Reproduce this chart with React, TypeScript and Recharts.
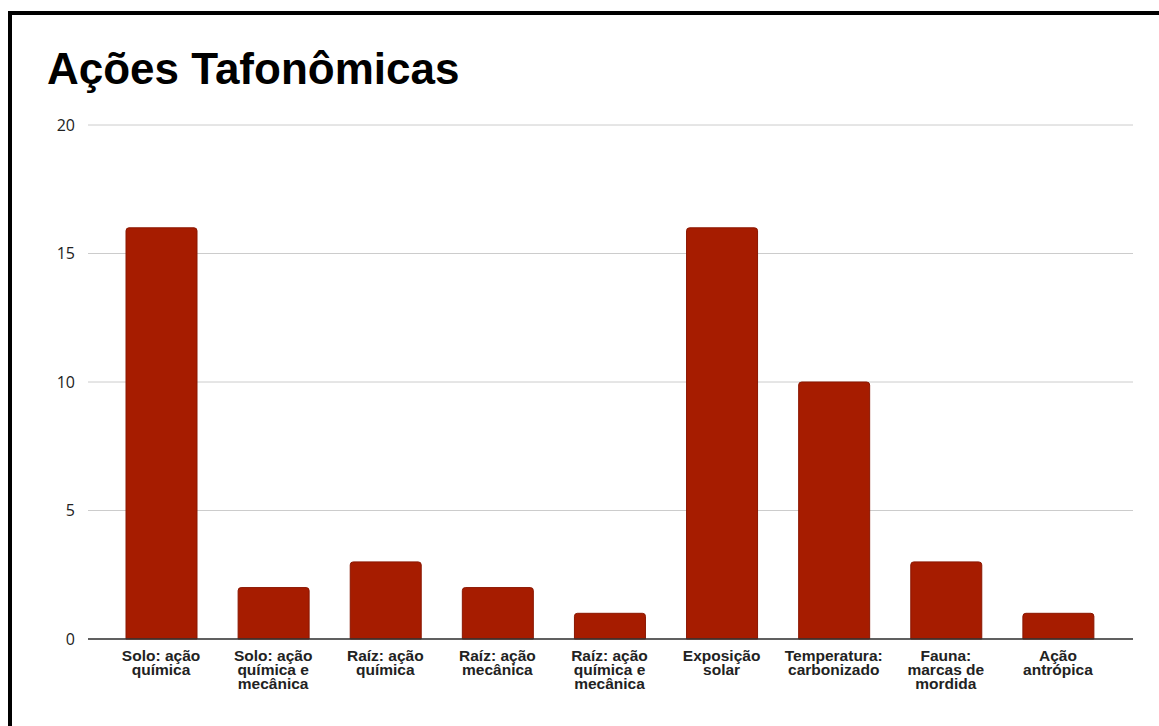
import React from 'react';
import { BarChart, Bar, XAxis, YAxis, CartesianGrid } from 'recharts';

// categorias e valores
const categories = [
  'Solo: ação química',
  'Solo: ação química e mecânica',
  'Raíz: ação química',
  'Raíz: ação mecânica',
  'Raíz: ação química e mecânica',
  'Exposição solar',
  'Temperatura: carbonizado',
  'Fauna: marcas de mordida',
  'Ação antrópica',
];
const counts = [16, 2, 3, 2, 1, 16, 10, 3, 1];
const yTicks = [0, 5, 10, 15, 20];

const data = categories.map((name, i) => ({ name, value: counts[i] }));

// quebra simples por número de caracteres
function wrap(label: string, max = 12) {
  const words = label.split(' ');
  const lines: string[] = [];
  let cur = '';
  words.forEach((w) => {
    const next = cur ? cur + ' ' + w : w;
    if (next.length > max && cur) {
      lines.push(cur);
      cur = w;
    } else {
      cur = next;
    }
  });
  if (cur) lines.push(cur);
  return lines;
}

const CategoryTick = (props: any) => {
  const { x, y, payload } = props;
  const lines = wrap(String(payload.value));
  return (
    <g>
      {lines.map((l, i) => (
        <text
          key={i}
          x={x}
          y={y + 22 + i * 14}
          textAnchor="middle"
          fill="#222"
          fontFamily="'Liberation Sans', Arial, sans-serif"
          fontWeight="bold"
          fontSize={15.5}
        >
          {l}
        </text>
      ))}
    </g>
  );
};

export default function App() {
  return (
    <div style={{ position: 'absolute', left: 0, top: 0, width: 1159, height: 726, background: '#fff', overflow: 'hidden' }}>
      {/* moldura preta (só topo e esquerda aparecem) */}
      <div
        style={{
          position: 'absolute',
          left: 8,
          top: 11,
          width: 1200,
          height: 800,
          borderTop: '4px solid #000',
          borderLeft: '4px solid #000',
        }}
      />
      <div
        style={{
          position: 'absolute',
          left: 47,
          top: 47,
          fontFamily: "'Liberation Sans', Arial, sans-serif",
          fontWeight: 'bold',
          fontSize: 44,
          lineHeight: 1,
          color: '#000',
          whiteSpace: 'nowrap',
        }}
      >
        Ações Tafonômicas
      </div>
      <div style={{ position: 'absolute', left: 0, top: 0 }}>
        <BarChart width={1159} height={726} data={data} margin={{ top: 125, right: 26, bottom: 27, left: 28 }}>
          <CartesianGrid vertical={false} stroke="#cccccc" />
          <XAxis
            dataKey="name"
            interval={0}
            height={60}
            padding={{ left: 17, right: 19 }}
            axisLine={{ stroke: '#333', strokeWidth: 1.5 }}
            tickLine={false}
            tickSize={0}
            tickMargin={0}
            tick={<CategoryTick />}
          />
          <YAxis
            width={60}
            domain={[0, 20]}
            ticks={yTicks}
            axisLine={false}
            tickLine={false}
            tickSize={0}
            tickMargin={13}
            tick={{ fill: '#222', fontSize: 16, fontFamily: "'Open Sans', sans-serif" }}
          />
          <Bar
            dataKey="value"
            fill="#a61c00"
            stroke="#8a1600"
            strokeWidth={1}
            barSize={71}
            radius={[3, 3, 0, 0]}
            isAnimationActive={false}
          />
        </BarChart>
      </div>
    </div>
  );
}
